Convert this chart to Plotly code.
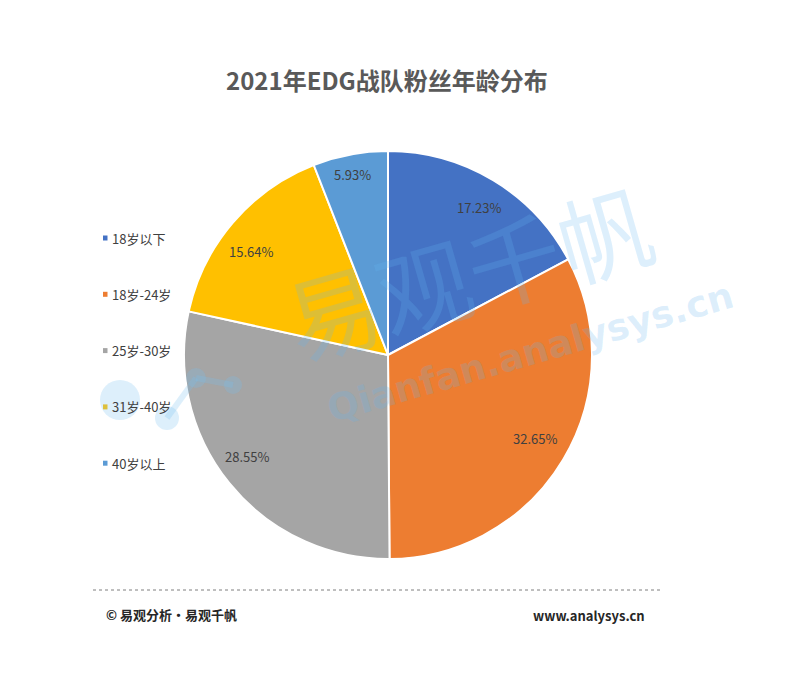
import math
import plotly.graph_objects as go

categories = ["18岁以下", "18岁-24岁", "25岁-30岁", "31岁-40岁", "40岁以上"]
values = [17.23, 32.65, 28.55, 15.64, 5.93]
colors = ["#4472C4", "#ED7D31", "#A5A5A5", "#FFC000", "#5B9BD5"]
title = "2021年EDG战队粉丝年龄分布"

W, H = 786, 676
OFF = 8  # page offset of the plot div
FONT = "Noto Sans CJK SC"


def px(x):
    return (x - OFF) / W


def py(y):
    return 1 - (y - OFF) / H


CX, CY, R = 388, 355, 204
label_r = [0.85, 0.83, 0.85, 0.84, 0.90]
label_da = [0.8, -1.2, 3.2, -3.5, -0.6]  # small angular nudges (degrees)

fig = go.Figure()
fig.add_trace(go.Pie(
    labels=categories, values=values, sort=False, direction="clockwise", rotation=0,
    marker=dict(colors=colors, line=dict(color="white", width=2)),
    textinfo="none",
    domain=dict(x=[px(CX - R), px(CX + R)], y=[py(CY + R), py(CY - R)]),
    showlegend=False, hoverinfo="label+percent",
))

shapes = []
annotations = []

# data labels placed along each slice's bisector
total = sum(values)
cum = 0.0
for v, fr, da in zip(values, label_r, label_da):
    mid = (cum + v / 2) / total * 2 * math.pi + math.radians(da)
    cum += v
    lx = CX + fr * R * math.sin(mid)
    ly = CY - fr * R * math.cos(mid)
    annotations.append(dict(text=f"{v:.2f}%", x=px(lx), y=py(ly), xref="paper", yref="paper",
                            showarrow=False, xanchor="center", yanchor="middle",
                            font=dict(family=FONT, size=13, color="#404040")))

# legend
for i, (c, col) in enumerate(zip(categories, colors)):
    yc = 238 + i * 56.3
    shapes.append(dict(type="rect", xref="paper", yref="paper",
                       x0=px(103), x1=px(107.5), y0=py(yc + 2.5), y1=py(yc - 2.5),
                       fillcolor=col, line=dict(width=0)))
    annotations.append(dict(text=c, x=px(110), y=py(yc), xref="paper", yref="paper",
                            xanchor="left", yanchor="middle", showarrow=False,
                            font=dict(family=FONT, size=13, color="#404040")))

# watermark logo (light circles)
wm = "rgba(120,190,240,0.25)"
for (x, y, r) in [(120, 400, 20), (167, 418, 12), (196, 378, 10), (233, 385, 9)]:
    shapes.append(dict(type="circle", xref="paper", yref="paper",
                       x0=px(x - r), x1=px(x + r), y0=py(y + r), y1=py(y - r),
                       fillcolor=wm, line=dict(width=0), layer="above"))
shapes.append(dict(type="line", xref="paper", yref="paper", x0=px(167), y0=py(418),
                   x1=px(196), y1=py(378), line=dict(color=wm, width=6), layer="above"))
shapes.append(dict(type="line", xref="paper", yref="paper", x0=px(196), y0=py(378),
                   x1=px(233), y1=py(385), line=dict(color=wm, width=6), layer="above"))

# watermark text
annotations.append(dict(text="易观千帆", x=px(468), y=py(270), xref="paper", yref="paper",
                        showarrow=False, textangle=-16,
                        font=dict(family=FONT, size=94, color="rgba(100,180,240,0.22)")))
annotations.append(dict(text="<b>Qianfan.analysys.cn</b>", x=px(530), y=py(352), xref="paper", yref="paper",
                        showarrow=False, textangle=-16,
                        font=dict(family="DejaVu Sans", size=37, color="rgba(100,180,240,0.22)")))

# footer
shapes.append(dict(type="line", xref="paper", yref="paper", x0=px(93), x1=px(660),
                   y0=py(590), y1=py(590), line=dict(color="#7F7F7F", width=1, dash="dot")))
annotations.append(dict(text="<b>© 易观分析·易观千帆</b>", x=px(104), y=py(614), xref="paper", yref="paper",
                        xanchor="left", yanchor="middle", showarrow=False,
                        font=dict(family=FONT, size=13, color="#262626")))
annotations.append(dict(text="<b>www.analysys.cn</b>", x=px(647), y=py(615), xref="paper", yref="paper",
                        xanchor="right", yanchor="middle", showarrow=False,
                        font=dict(family=FONT, size=13, color="#262626")))
# title
annotations.append(dict(text="<b>" + title + "</b>", x=px(387), y=py(80), xref="paper", yref="paper",
                        xanchor="center", yanchor="middle", showarrow=False,
                        font=dict(family=FONT, size=24, color="#595959")))

fig.update_layout(width=W, height=H, margin=dict(l=0, r=0, t=0, b=0),
                  paper_bgcolor="white", plot_bgcolor="white",
                  shapes=shapes, annotations=annotations, showlegend=False)
fig.write_html("out.html")
